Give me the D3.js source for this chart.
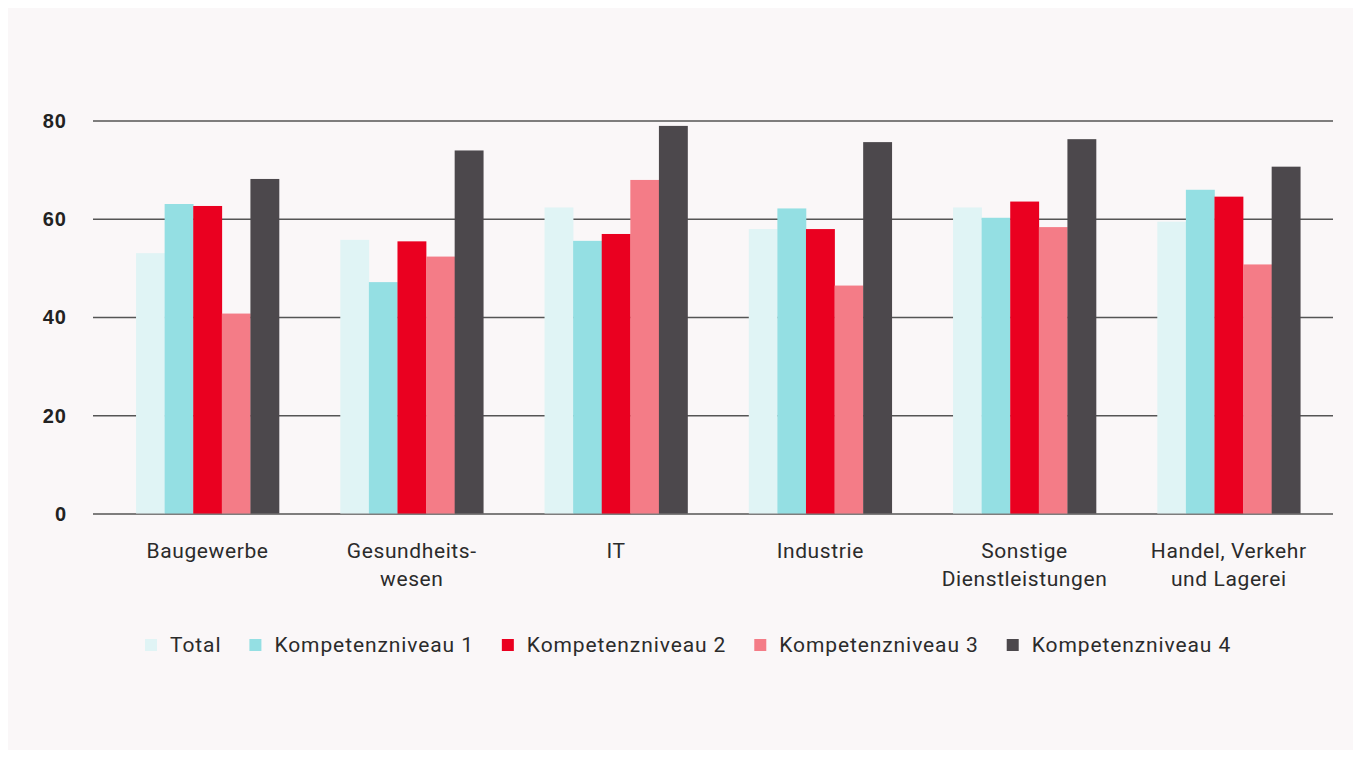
<!DOCTYPE html>
<html><head><meta charset="utf-8">
<script src="https://cdn.jsdelivr.net/npm/d3@7"></script>
<style>
html,body{margin:0;padding:0;background:#ffffff;}
svg{display:block;}
</style></head>
<body>
<svg id="chart" width="1361" height="758"></svg>
<script>
const categories = [["Baugewerbe"],["Gesundheits-","wesen"],["IT"],["Industrie"],["Sonstige","Dienstleistungen"],["Handel, Verkehr","und Lagerei"]];
const seriesNames = ["Total","Kompetenzniveau 1","Kompetenzniveau 2","Kompetenzniveau 3","Kompetenzniveau 4"];
const seriesColors = ["#e0f4f5","#94dfe3","#ea0020","#f47c87","#4c484c"];
const total = [53, 55.7, 62.3, 57.9, 62.3, 59.4];
const k1 = [63, 47.1, 55.5, 62.1, 60.2, 65.9];
const k2 = [62.6, 55.4, 56.9, 57.9, 63.5, 64.5];
const k3 = [40.7, 52.3, 67.9, 46.4, 58.3, 50.7];
const k4 = [68.1, 73.9, 78.9, 75.6, 76.2, 70.6];
const yTicks = [0, 20, 40, 60, 80];

const series = [total, k1, k2, k3, k4];
const svg = d3.select("#chart");

svg.append("rect").attr("x",8).attr("y",8).attr("width",1345).attr("height",742).attr("fill","#faf7f8");

const gridX0 = 93, gridX1 = 1333;
const y = d3.scaleLinear().domain([0,80]).range([513.5,120.5]);
const catIdx = categories.map((d,i)=>i);
const x0 = d3.scaleBand().domain(catIdx).range([105.4,1330.9]).paddingInner(0.3).paddingOuter(0.15);
const x1 = d3.scaleBand().domain(d3.range(series.length)).range([0,x0.bandwidth()]);

// grid
const yAxis = d3.axisLeft(y).tickValues(yTicks).tickSize(-(gridX1-gridX0)).tickPadding(26).tickFormat(d3.format("d"));
const gAxis = svg.append("g").attr("transform",`translate(${gridX0},0)`).call(yAxis);
gAxis.select(".domain").remove();
gAxis.selectAll(".tick line").attr("stroke","#555").attr("stroke-width",1.6);
gAxis.selectAll(".tick text").attr("font-family","Liberation Sans, Arial, sans-serif").attr("font-weight","bold").attr("font-size",20).attr("letter-spacing","1px").attr("fill","#222").attr("dy","0.34em");

// bars
const groups = svg.append("g").selectAll("g").data(catIdx).join("g")
  .attr("transform",i=>`translate(${x0(i)},0)`);
groups.selectAll("rect").data(i=>series.map((s,j)=>({j, v:s[i]}))).join("rect")
  .attr("x",d=>x1(d.j)).attr("width",x1.bandwidth()+0.3)
  .attr("y",d=>y(d.v)).attr("height",d=>y(0)-y(d.v))
  .attr("fill",d=>seriesColors[d.j]);

// category labels
const labels = svg.append("g").selectAll("text").data(catIdx).join("text")
  .attr("x",i=>x0(i)+x0.bandwidth()/2).attr("y",558)
  .attr("text-anchor","middle").attr("font-family","Roboto, sans-serif").attr("font-size",21).attr("letter-spacing","0.6px").attr("fill","#2b2b2b");
labels.selectAll("tspan").data(i=>categories[i]).join("tspan")
  .attr("x",function(){return d3.select(this.parentNode).attr("x");})
  .attr("dy",(d,k)=>k===0?0:28).text(d=>d);

// legend
const legend = svg.append("g");
let lx = 145;
seriesNames.forEach((name,j)=>{
  legend.append("rect").attr("x",lx).attr("y",639).attr("width",12).attr("height",12).attr("fill",seriesColors[j]);
  const t = legend.append("text").attr("x",lx+25).attr("y",652).attr("font-family","Roboto, sans-serif").attr("font-size",21).attr("letter-spacing","0.9px").attr("fill","#2b2b2b").text(name);
  lx += 25 + t.node().getComputedTextLength() + 28;
});
</script>
</body></html>
